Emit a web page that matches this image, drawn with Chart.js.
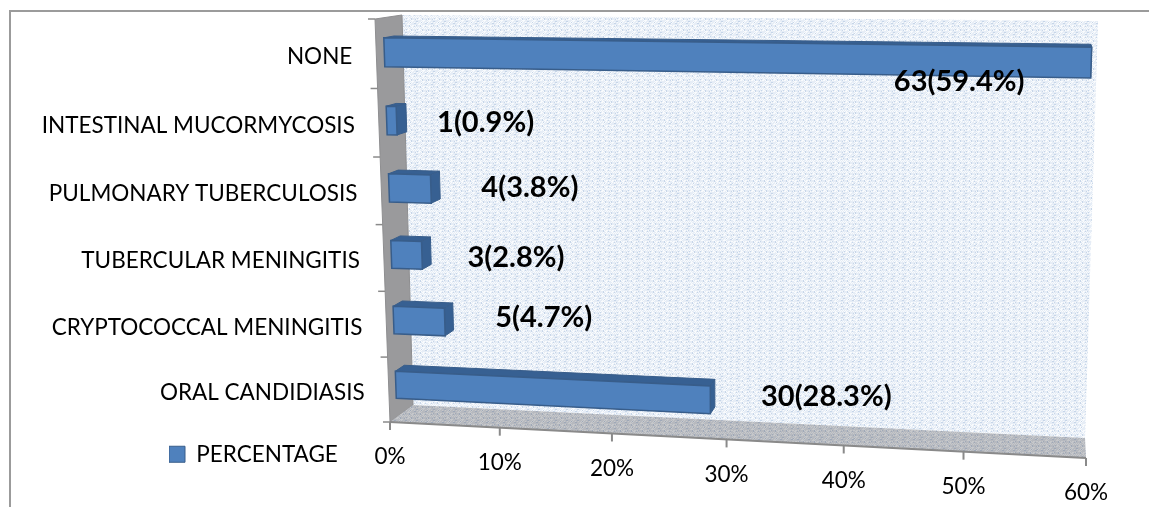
<!DOCTYPE html>
<html>
<head>
<meta charset="utf-8">
<title>Opportunistic infections</title>
<script src="https://cdn.jsdelivr.net/npm/chart.js@4"></script>
<style>
  html, body { margin: 0; padding: 0; background: #fff; overflow: hidden; }
  canvas { display: block; }
</style>
</head>
<body>
<canvas id="myChart" width="1149" height="507"></canvas>
<script>
const categories = ['NONE', 'INTESTINAL MUCORMYCOSIS', 'PULMONARY TUBERCULOSIS', 'TUBERCULAR MENINGITIS', 'CRYPTOCOCCAL MENINGITIS', 'ORAL CANDIDIASIS'];
const counts = [63, 1, 4, 3, 5, 30];
const percentages = [59.4, 0.9, 3.8, 2.8, 4.7, 28.3];
const seriesName = 'PERCENTAGE';

// nudges for the value labels, from the tip of each bar
const labelNudge = [[-132, 19], [89, 2], [99, -1], [94, 2], [99, -4], [116, -3]];

// corners of the box: top-left, top-right, bottom-right, bottom-left
const frontPlane = [[375, 19], [1101, 28], [1086, 458], [390, 422]];
const backPlane = [[402, 15], [1098, 21], [1085, 438], [413, 405]];
const barDepth = [0.3, 0.68];

const FONT = 'Lato, "Open Sans", sans-serif';
const blue = '#4f81bd';
const blueDark = '#376092';
const blueLine = '#385d8a';

function quadMap(q) {
  const [p0, p1, p2, p3] = q;
  const dx1 = p1[0] - p2[0], dx2 = p3[0] - p2[0], sx = p0[0] - p1[0] + p2[0] - p3[0];
  const dy1 = p1[1] - p2[1], dy2 = p3[1] - p2[1], sy = p0[1] - p1[1] + p2[1] - p3[1];
  const den = dx1 * dy2 - dx2 * dy1;
  const g = (sx * dy2 - dx2 * sy) / den;
  const h = (dx1 * sy - sx * dy1) / den;
  const a = p1[0] - p0[0] + g * p1[0], b = p3[0] - p0[0] + h * p3[0];
  const d = p1[1] - p0[1] + g * p1[1], e = p3[1] - p0[1] + h * p3[1];
  return (u, v) => {
    const w = g * u + h * v + 1;
    return [(a * u + b * v + p0[0]) / w, (d * u + e * v + p0[1]) / w];
  };
}
const frontMap = quadMap(frontPlane);
const backMap = quadMap(backPlane);

function project(u, v, z) {
  const f = frontMap(u, v), b = backMap(u, v);
  return [f[0] + (b[0] - f[0]) * z, f[1] + (b[1] - f[1]) * z];
}

function poly(ctx, pts, fill, stroke, lw) {
  ctx.beginPath();
  pts.forEach((p, i) => i ? ctx.lineTo(p[0], p[1]) : ctx.moveTo(p[0], p[1]));
  ctx.closePath();
  if (fill) { ctx.fillStyle = fill; ctx.fill(); }
  if (stroke) { ctx.strokeStyle = stroke; ctx.lineWidth = lw || 1; ctx.stroke(); }
}

// small speckle tile for the wall and floor fills
function speckleTile(ctx, base, dark, light) {
  const size = 61;
  const c = document.createElement('canvas');
  c.width = c.height = size;
  const t = c.getContext('2d');
  t.fillStyle = base;
  t.fillRect(0, 0, size, size);
  for (let y = 0; y < size; y++) {
    for (let x = 0; x < size; x++) {
      const k = (x * x * 7 + y * y * 13 + x * y * 3) % 11;
      if (k === 0 || k === 5) { t.fillStyle = dark; t.fillRect(x, y, 1, 1); }
      else if (k === 2 || k === 7 || k === 9) { t.fillStyle = light; t.fillRect(x, y, 1, 1); }
    }
  }
  return ctx.createPattern(c, 'repeat');
}

const box3d = {
  id: 'box3d',
  afterLayout(chart) {
    // legend sits beside the axis, outside the plot box
    const lg = chart.legend;
    const w = lg.width, h = lg.height;
    lg.left = 169; lg.right = 169 + w;
    lg.top = 443; lg.bottom = 443 + h;
  },
  beforeDatasetsDraw(chart) {
    const ctx = chart.ctx;
    const area = chart.chartArea;
    const xs = chart.scales.x, ys = chart.scales.y;
    const toU = px => (px - area.left) / area.width;
    const toV = px => (px - area.top) / area.height;

    ctx.save();

    // frame
    ctx.strokeStyle = '#9b9b9b';
    ctx.lineWidth = 2;
    ctx.beginPath();
    ctx.moveTo(10, 507); ctx.lineTo(10, 11); ctx.lineTo(1149, 11);
    ctx.stroke();

    // back wall, side wall, floor
    poly(ctx, backPlane, speckleTile(ctx, '#e6edf6', '#c6d5e8', '#f9fbfd'));
    poly(ctx, [frontPlane[0], backPlane[0], backPlane[3], frontPlane[3]], '#9a9a9c', '#8e8e90');
    poly(ctx, [backPlane[3], backPlane[2], frontPlane[2], frontPlane[3]], speckleTile(ctx, '#b6b9bf', '#9ea8b8', '#c6c8cb'));

    // axis lines
    ctx.strokeStyle = '#8a8a8a';
    ctx.lineWidth = 2;
    ctx.beginPath();
    ctx.moveTo(frontPlane[3][0], frontPlane[3][1]);
    ctx.lineTo(frontPlane[2][0], frontPlane[2][1]);
    ctx.stroke();

    ctx.fillStyle = '#000';
    ctx.font = '22.5px ' + FONT;
    ctx.textBaseline = 'middle';

    // value axis ticks
    ctx.textAlign = 'center';
    xs.ticks.forEach((tick, i) => {
      const p = project(toU(xs.getPixelForTick(i)), 1, 0);
      ctx.strokeStyle = '#8a8a8a';
      ctx.lineWidth = 2;
      ctx.beginPath();
      ctx.moveTo(p[0], p[1]);
      ctx.lineTo(p[0], p[1] + 8);
      ctx.stroke();
      ctx.fillStyle = '#000';
      ctx.fillText(tick.label, p[0], p[1] + 35);
    });

    // category ticks and names
    ctx.textAlign = 'right';
    ys.getLabels().forEach((name, i) => {
      const band = ys.getPixelForValue(i);
      const step = area.height / categories.length;
      const t = project(0, toV(band - step / 2), 0);
      ctx.strokeStyle = '#8a8a8a';
      ctx.lineWidth = 1.5;
      ctx.beginPath();
      ctx.moveTo(t[0] - 7, t[1]);
      ctx.lineTo(t[0], t[1]);
      ctx.stroke();
      const p = project(0, toV(band), 0);
      ctx.fillStyle = '#000';
      ctx.fillText(name, p[0] - 24, p[1] + 3);
    });
    const last = project(0, 1, 0);
    ctx.beginPath();
    ctx.moveTo(last[0] - 7, last[1]);
    ctx.lineTo(last[0], last[1]);
    ctx.stroke();

    // bars, from the elements the bar controller laid out
    const bars = chart.getDatasetMeta(0).data;
    const [z0, z1] = barDepth;
    bars.forEach(bar => {
      const u0 = toU(bar.base), u1 = toU(bar.x);
      const v0 = toV(bar.y - bar.height / 2), v1 = toV(bar.y + bar.height / 2);
      poly(ctx, [project(u0, v0, z0), project(u0, v0, z1), project(u1, v0, z1), project(u1, v0, z0)], blueDark, blueLine);
      poly(ctx, [project(u1, v0, z0), project(u1, v0, z1), project(u1, v1, z1), project(u1, v1, z0)], blueDark, blueLine);
      poly(ctx, [project(u0, v0, z0), project(u1, v0, z0), project(u1, v1, z0), project(u0, v1, z0)], blue, blueLine, 1.5);
    });

    // value labels
    ctx.font = 'bold 29px ' + FONT;
    ctx.textAlign = 'center';
    ctx.fillStyle = '#000';
    bars.forEach((bar, i) => {
      const p = project(toU(bar.x), toV(bar.y), z0);
      const text = counts[i] + '(' + percentages[i] + '%)';
      ctx.fillText(text, p[0] + labelNudge[i][0], p[1] + labelNudge[i][1]);
    });

    ctx.restore();
    return false;
  }
};

const myChart = new Chart(document.getElementById('myChart').getContext('2d'), {
  type: 'bar',
  data: {
    labels: categories,
    datasets: [{
      label: seriesName,
      data: percentages,
      backgroundColor: blue,
      borderColor: blueLine,
      borderWidth: 1,
      barPercentage: 0.42,
      categoryPercentage: 1
    }]
  },
  options: {
    indexAxis: 'y',
    responsive: false,
    animation: false,
    layout: { padding: 0 },
    scales: {
      x: {
        min: 0,
        max: 60,
        ticks: { display: false, stepSize: 10, callback: v => v + '%' },
        grid: { display: false },
        border: { display: false }
      },
      y: {
        ticks: { display: false },
        grid: { display: false },
        border: { display: false }
      }
    },
    plugins: {
      tooltip: { enabled: false },
      legend: {
        position: 'bottom',
        align: 'start',
        labels: {
          boxWidth: 16,
          boxHeight: 16,
          padding: 0,
          color: '#000',
          font: { family: FONT, size: 22.5 }
        }
      }
    }
  },
  plugins: [box3d]
});
</script>
</body>
</html>
